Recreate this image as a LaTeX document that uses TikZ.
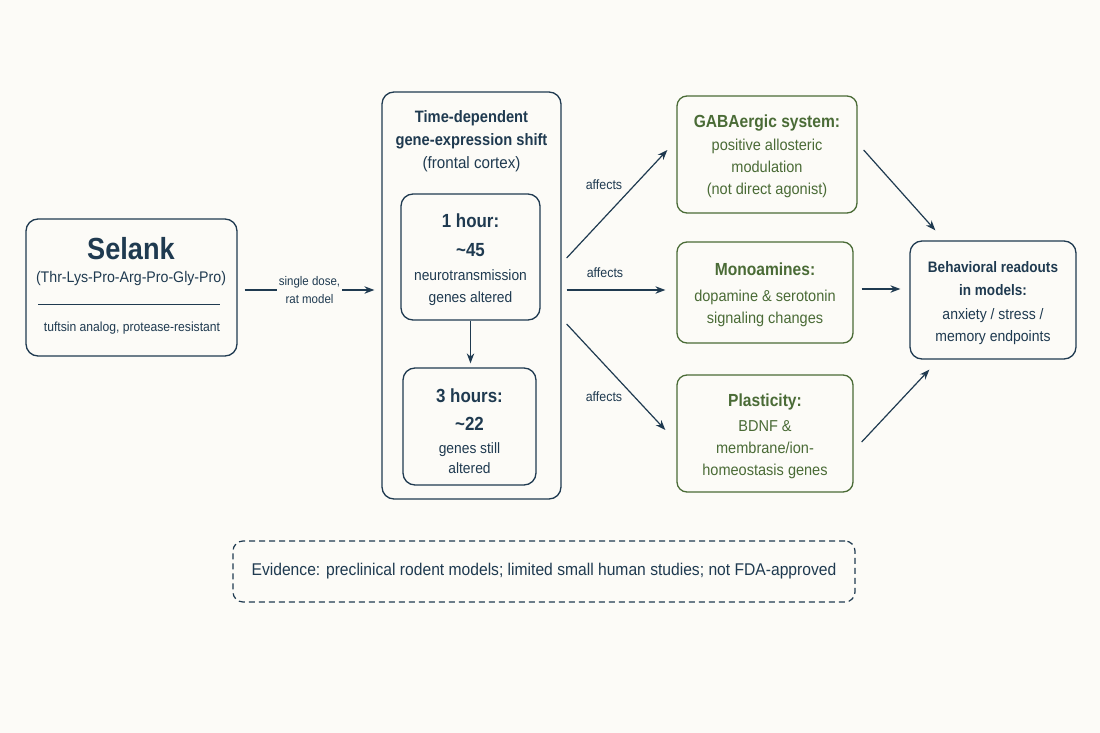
\documentclass[tikz,border=0pt]{standalone}
\usepackage{fontspec}
\setmainfont{Liberation Sans}[FakeStretch=0.92, BoldFeatures={FakeStretch=0.89}]
\usetikzlibrary{arrows.meta}
\definecolor{navy}{HTML}{1F3A50}
\definecolor{grn}{HTML}{4A6B36}
\definecolor{bg}{HTML}{FCFBF7}
\begin{document}
\begin{tikzpicture}[x=1pt,y=-1pt,
  box/.style={draw=navy, line width=1.3pt, rounded corners=12pt, inner sep=0pt},
  gbox/.style={draw=grn, line width=1.3pt, rounded corners=10pt, inner sep=0pt},
  arr/.style={draw=navy, line width=1.2pt, -{Stealth[length=10pt,width=7.5pt]}},
  lbl/.style={text=navy, font=\fontsize{12.5}{18}\selectfont, align=center},
  afflbl/.style={text=navy, font=\fontsize{13.5}{16}\selectfont},
  txt/.style={text=navy, inner sep=0pt, align=center},
  gtxt/.style={text=grn, inner sep=0pt, align=center}]
\fill[bg] (0,0) rectangle (1100,733);
\useasboundingbox (0,0) rectangle (1100,733);

% Selank box
\node[box, minimum width=211pt, minimum height=137pt] (selank) at (131.5,287.5) {};
\node[txt, font=\fontsize{30.5}{34}\selectfont\bfseries] (seltitle) at (131,249) {Selank};
\node[txt, font=\fontsize{15.4}{18}\selectfont] (selseq) at (131,279) {(Thr-Lys-Pro-Arg-Pro-Gly-Pro)};
\draw[navy, line width=0.6pt] (38,304) -- (220,304);
\node[txt, font=\fontsize{13.2}{16}\selectfont] (seltuft) at (132,328) {tuftsin analog, protease-resistant};

% Time box
\node[box, minimum width=179pt, minimum height=407pt] (tbox) at (471.5,295.5) {};
\node[txt, font=\fontsize{16.5}{23}\selectfont] (ttitle) at (471.5,141)
  {\fontsize{16.5}{23}\selectfont\bfseries Time-dependent\\
   \fontsize{16.5}{23}\selectfont\bfseries gene-expression shift\\
   \fontsize{16.5}{23}\selectfont (frontal cortex)};
\node[box, minimum width=139pt, minimum height=126pt] (h1) at (470.5,257) {};
\node[txt, font=\fontsize{15}{22}\selectfont] (h1t) at ([yshift=-2.5pt]h1.center)
  {\fontsize{19}{22}\selectfont\bfseries 1 hour:\\[7pt]
   \fontsize{19}{22}\selectfont\bfseries \textasciitilde45\\[2pt]
   \fontsize{15}{22}\selectfont neurotransmission\\
   \fontsize{15}{22}\selectfont genes altered};
\node[box, minimum width=133pt, minimum height=117pt] (h3) at (469.5,426.5) {};
\node[txt, font=\fontsize{15}{20}\selectfont] (h3t) at ([yshift=-4.5pt]h3.center)
  {\fontsize{19}{22}\selectfont\bfseries 3 hours:\\[8pt]
   \fontsize{19}{22}\selectfont\bfseries \textasciitilde22\\[3pt]
   \fontsize{15}{20}\selectfont genes still\\
   \fontsize{15}{20}\selectfont altered};

% green boxes
\node[gbox, minimum width=180pt, minimum height=117pt] (gaba) at (767,154.5) {};
\node[gtxt, font=\fontsize{15.8}{22.3}\selectfont] (gabat) at ([yshift=-2pt]gaba.center)
  {\fontsize{17.5}{22}\selectfont\bfseries GABAergic system:\\
   \fontsize{15.8}{22}\selectfont positive allosteric\\
   \fontsize{15.8}{22}\selectfont modulation\\
   \fontsize{15.8}{22}\selectfont (not direct agonist)};
\node[gbox, minimum width=176pt, minimum height=101pt] (mono) at (765,292.5) {};
\node[gtxt, font=\fontsize{15.8}{22}\selectfont] (monot) at ([yshift=-2pt]mono.center)
  {\fontsize{17.5}{22}\selectfont\bfseries Monoamines:\\[4pt]
   \fontsize{15.8}{22}\selectfont dopamine \& serotonin\\
   \fontsize{15.8}{22}\selectfont signaling changes};
\node[gbox, minimum width=176pt, minimum height=117pt] (plast) at (765,433.5) {};
\node[gtxt, font=\fontsize{15.8}{22}\selectfont] (plastt) at ([yshift=-2.5pt]plast.center)
  {\fontsize{17.5}{22}\selectfont\bfseries Plasticity:\\[3pt]
   \fontsize{15.8}{22}\selectfont BDNF \&\\
   \fontsize{15.8}{22}\selectfont membrane/ion-\\
   \fontsize{15.8}{22}\selectfont homeostasis genes};

% right box
\node[box, minimum width=166pt, minimum height=118pt] (rbox) at (993,300) {};
\node[txt, font=\fontsize{15.2}{22}\selectfont] (rboxt) at ([yshift=-3.5pt]rbox.center)
  {\fontsize{15.2}{22}\selectfont\bfseries Behavioral readouts\\[1pt]
   \fontsize{15.2}{22}\selectfont\bfseries in models:\\[2pt]
   \fontsize{15.2}{22}\selectfont anxiety / stress /\\
   \fontsize{15.2}{22}\selectfont memory endpoints};

% evidence box
\node[draw=navy, line width=1.2pt, dash pattern=on 6pt off 4pt, rounded corners=10pt,
      minimum width=622pt, minimum height=61pt, text=navy, font=\fontsize{17}{20}\selectfont] (evid) at (544,571.5)
  {Evidence: preclinical rodent models; limited small human studies; not FDA-approved};

% connectors
\draw[arr, shorten <=7pt, shorten >=7pt] ([yshift=-2.5pt]selank.east) -- ([yshift=-2.5pt]selank.east -| tbox.west)
  node[midway, fill=bg, lbl, inner sep=2pt] (doselbl) {single dose,\\rat model};
\draw[arr, shorten >=4pt] (h1.south) -- (h1.south |- h3.north);

\coordinate (t1) at ([xshift=5pt,yshift=37.5pt]tbox.east);
\coordinate (t2) at ([xshift=5pt,yshift=5.5pt]tbox.east);
\coordinate (t3) at ([xshift=5pt,yshift=-28.5pt]tbox.east);
\draw[arr] (t1) -- ([xshift=-9pt,yshift=4.5pt]gaba.west)
  node[midway, afflbl, xshift=-13pt, yshift=19pt] (aff1) {affects};
\draw[arr] (t2) -- ([xshift=-11pt]t2 -| mono.west)
  node[midway, afflbl, xshift=-11pt, yshift=17pt] (aff2) {affects};
\draw[arr] (t3) -- ([xshift=-11pt,yshift=3.5pt]plast.west)
  node[midway, afflbl, xshift=-12pt, yshift=-20pt] (aff3) {affects};

\coordinate (g1) at ([xshift=6pt,yshift=4.5pt]gaba.east);
\coordinate (g2) at ([xshift=8pt,yshift=3.5pt]mono.east);
\coordinate (g3) at ([xshift=8pt,yshift=-8.5pt]plast.east);
\draw[arr] (g1) -- ([xshift=26pt,yshift=10pt]rbox.north west);
\draw[arr, shorten >=9pt] (g2) -- (g2 -| rbox.west);
\draw[arr] (g3) -- ([xshift=20pt,yshift=-10pt]rbox.south west);
\end{tikzpicture}
\end{document}
